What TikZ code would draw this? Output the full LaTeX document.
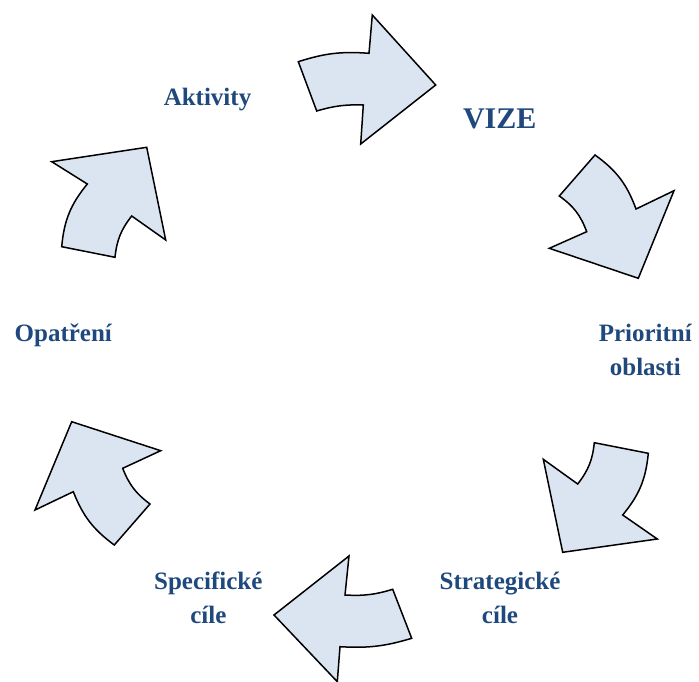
\documentclass[tikz,border=0pt]{standalone}
\usepackage{fontspec}
\setmainfont{Liberation Serif}
\definecolor{lbl}{RGB}{31,73,125}
\definecolor{arrfill}{RGB}{219,229,241}
\begin{document}
\begin{tikzpicture}[x=1pt,y=-1pt,
  arrowshape/.style={draw=black,fill=arrfill,line width=1.5pt,line join=miter},
  lab/.style={text=lbl,font=\bfseries\fontsize{25}{34}\selectfont,align=center,anchor=base,inner sep=0pt},
  bigLab/.style={lab,font=\bfseries\fontsize{30}{36}\selectfont}]
\useasboundingbox (0,0) rectangle (699,682);
% labels
\node[lab] (aktivity) at (207.5,105.7) {Aktivity};
\node[bigLab] (vize) at (499.7,129) {VIZE};
\node[lab] (prior) at (645.3,375.5) {Prioritní\\oblasti};
\node[lab] (strat) at (500,623) {Strategické\\cíle};
\node[lab] (spec) at (208.3,623.3) {Specifické\\cíle};
\node[lab] (opat) at (63.3,341.7) {Opatření};
% arrows
\draw[arrowshape] (298.3,61.7) to[bend left=11] (369,53.3) -- (372.3,15) -- (435.7,85) -- (360.7,144) -- (363.3,105) to[bend right=9] (316.7,111) -- cycle;
\draw[arrowshape] (595,155) to[bend left=17] (636,209) -- (674,190.7) -- (638.3,278.3) -- (549.3,248.3) -- (586.7,231.7) to[bend right=17] (559.3,196) -- cycle;
\draw[arrowshape] (648.3,453.3) to[bend left=17] (622.7,515) -- (657.3,539) -- (562.7,552.3) -- (543.3,459.3) -- (577.7,484) to[bend right=16] (594.3,442.7) -- cycle;
\draw[arrowshape] (411.7,638.3) to[bend left=10] (340,646.7) -- (337.3,681.7) -- (274,615) -- (349,556) -- (345,595) to[bend right=10] (392.7,589.3) -- cycle;
\draw[arrowshape] (114.3,545) to[bend left=16] (73.3,491.7) -- (35,510) -- (71.7,421.7) -- (160.7,450.7) -- (122.7,468.3) to[bend right=16] (150,504) -- cycle;
\draw[arrowshape] (61.7,246.7) to[bend left=17] (87.3,184) -- (51.7,161.7) -- (146.7,147.3) -- (165.7,240) -- (131.7,216) to[bend right=16] (115,257.3) -- cycle;
\end{tikzpicture}
\end{document}
